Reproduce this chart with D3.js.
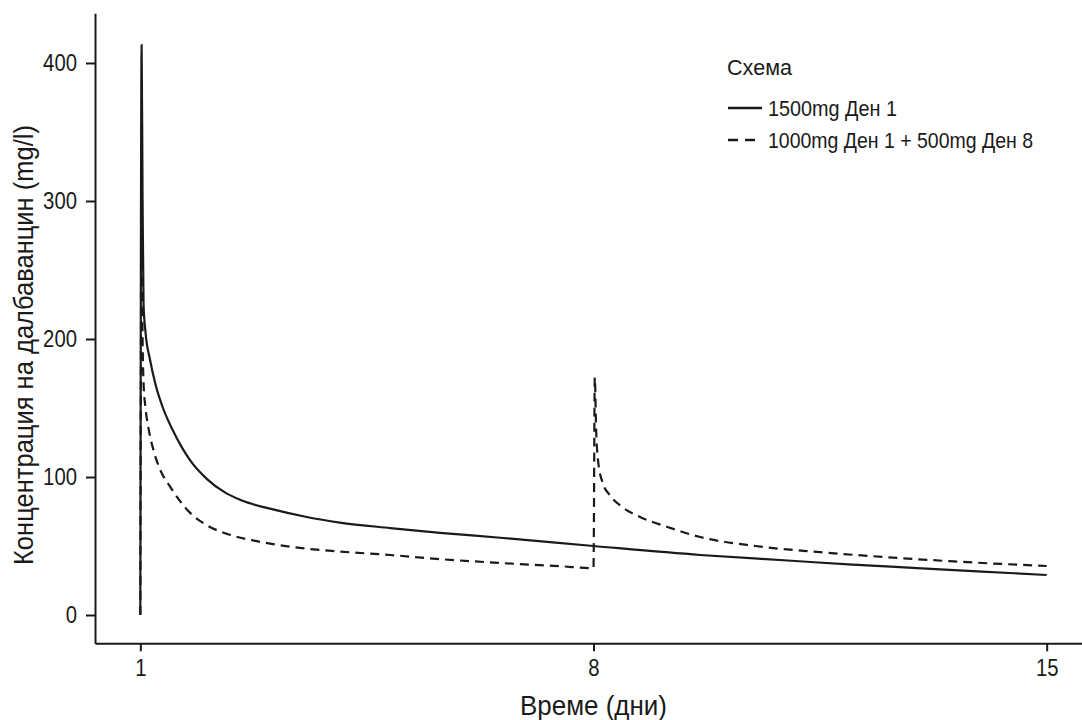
<!DOCTYPE html>
<html>
<head>
<meta charset="utf-8">
<script src="https://cdn.jsdelivr.net/npm/d3@7"></script>
<style>
  body { margin: 0; background: #fff; }
  text { font-family: "Liberation Sans Narrow", "Liberation Sans", Arial, sans-serif; fill: #1a1a1a; }
</style>
</head>
<body>
<div id="chart"></div>
<script>
// time (days) and concentration (mg/l)
const timeSingle = [1.0, 1.02, 1.035, 1.05, 1.08, 1.15, 1.23, 1.35, 1.5, 1.77, 2.03, 2.3, 2.54, 3.05, 3.57, 4.08, 4.86, 5.63, 6.56, 8.0, 9.65, 11, 12, 13, 14, 15];
const concSingle = [0, 413, 300, 225, 205, 185, 168, 150, 134, 112, 98.5, 89, 83.5, 76.5, 71, 67, 63, 59.5, 56, 50, 43.5, 39.5, 36.5, 34, 31.5, 29];

const timeSplit = [1.0, 1.02, 1.035, 1.05, 1.08, 1.12, 1.2, 1.3, 1.46, 1.77, 2.03, 2.39, 2.8, 3.31, 4.08, 4.86, 5.63, 6.56, 7.5, 7.99, 8.0, 8.02, 8.04, 8.07, 8.14, 8.25, 8.45, 8.72, 9.13, 9.65, 10.5, 11.5, 12.5, 13.5, 14.3, 15];
const concSplit = [0, 280, 200, 168, 150, 137, 120, 106, 93, 74, 65, 58, 53.5, 49.5, 46, 43.5, 40.5, 37.7, 35.3, 34, 34, 172, 135, 112, 96, 87, 78, 71, 64, 56.5, 50, 45.5, 42, 39, 37, 35.5];

const xTicks = [1, 8, 15];
const yTicks = [0, 100, 200, 300, 400];

const seriesNames = ["1500mg Ден 1", "1000mg Ден 1 + 500mg Ден 8"];
const legendTitle = "Схема";
const xTitle = "Време (дни)";
const yTitle = "Концентрация на далбаванцин (mg/l)";

const width = 1082;
const height = 720;
const ink = "#1a1a1a";
const dash = "9,6";

const series = [
    { name: seriesNames[0], dash: null, points: timeSingle.map((t, i) => [t, concSingle[i]]) },
    { name: seriesNames[1], dash: dash, points: timeSplit.map((t, i) => [t, concSplit[i]]) }
];

const x = d3.scaleLinear().domain([0.3, 15.7]).range([95, 1092]);
const y = d3.scaleLinear().domain([-20.5, 436]).range([643.3, 13.3]);

const svg = d3.select("#chart").append("svg")
    .attr("width", width)
    .attr("height", height)
    .attr("viewBox", [0, 0, width, height]);

//axes
const xAxis = svg.append("g")
    .attr("transform", `translate(0,${y(-20.5)})`)
    .call(d3.axisBottom(x).tickValues(xTicks).tickSize(8).tickPadding(8).tickSizeOuter(0));
const yAxis = svg.append("g")
    .attr("transform", `translate(${x(0.3)},0)`)
    .call(d3.axisLeft(y).tickValues(yTicks).tickSize(9).tickPadding(9).tickSizeOuter(0));

[xAxis, yAxis].forEach(g => {
    g.select(".domain").attr("stroke", ink).attr("stroke-width", 2);
    g.selectAll(".tick line").attr("stroke", ink).attr("stroke-width", 2);
    g.selectAll(".tick text")
        .attr("font-size", 24)
        .attr("fill", "#2a2a2a")
        .attr("textLength", d => String(d).length * 11.3)
        .attr("lengthAdjust", "spacingAndGlyphs");
});

//lines
const line = d3.line()
    .x(d => x(d[0]))
    .y(d => y(d[1]))
    .curve(d3.curveMonotoneX);

svg.append("g")
    .attr("fill", "none")
    .selectAll("path")
    .data(series)
    .join("path")
    .attr("stroke", ink)
    .attr("stroke-width", 2.2)
    .attr("stroke-dasharray", d => d.dash)
    .attr("d", d => line(d.points));

//axis titles
svg.append("text")
    .attr("x", (x(0.3) + x(15.7)) / 2)
    .attr("y", 715)
    .attr("text-anchor", "middle")
    .attr("font-size", 28)
    .attr("textLength", 147)
    .attr("lengthAdjust", "spacingAndGlyphs")
    .text(xTitle);

svg.append("text")
    .attr("transform", "translate(33,345) rotate(-90)")
    .attr("text-anchor", "middle")
    .attr("font-size", 28)
    .attr("textLength", 440)
    .attr("lengthAdjust", "spacingAndGlyphs")
    .text(yTitle);

//legend
const legend = svg.append("g").attr("transform", "translate(727,0)");
legend.append("text")
    .attr("x", 0)
    .attr("y", 75)
    .attr("font-size", 22)
    .attr("textLength", 65)
    .attr("lengthAdjust", "spacingAndGlyphs")
    .text(legendTitle);

const legendWidths = [129, 265];
const item = legend.selectAll("g.item")
    .data(series)
    .join("g")
    .attr("class", "item")
    .attr("transform", (d, i) => `translate(0,${108 + i * 32})`);

item.append("line")
    .attr("x1", 1).attr("x2", 35)
    .attr("stroke", ink)
    .attr("stroke-width", 2.4)
    .attr("stroke-dasharray", d => d.dash ? "10,7" : null);

item.append("text")
    .attr("x", 41)
    .attr("y", 8)
    .attr("font-size", 22)
    .attr("textLength", (d, i) => legendWidths[i])
    .attr("lengthAdjust", "spacingAndGlyphs")
    .text(d => d.name);
</script>
</body>
</html>
